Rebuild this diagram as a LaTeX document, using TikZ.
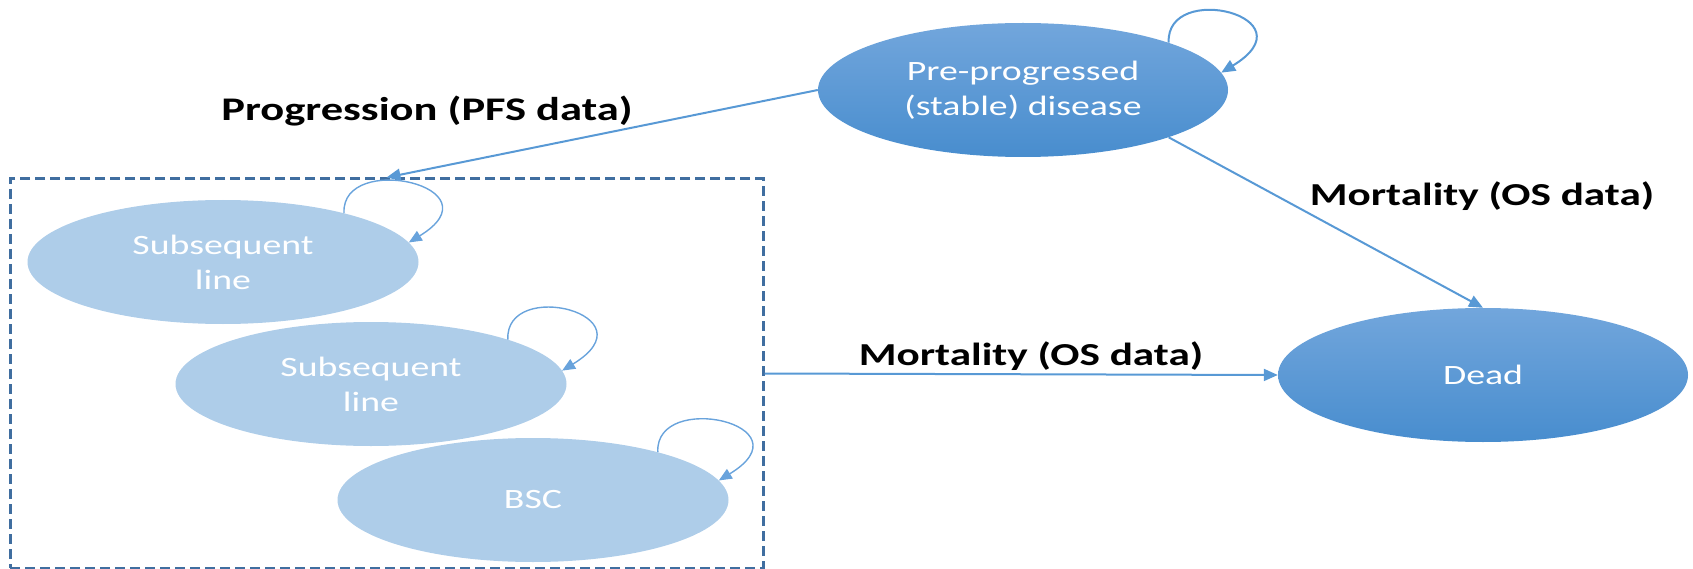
\documentclass[tikz,border=0pt]{standalone}
\usepackage{fontspec}
\setmainfont[FakeStretch=1.35]{Carlito}
\usetikzlibrary{shapes.geometric,arrows.meta,positioning}
\usepackage{xcolor}
\definecolor{stateTop}{RGB}{114,166,220}
\definecolor{stateBot}{RGB}{72,141,206}
\definecolor{subFill}{RGB}{174,205,233}
\definecolor{flowBlue}{RGB}{88,153,213}
\definecolor{loopBlue}{RGB}{105,163,220}
\definecolor{boxBlue}{RGB}{64,110,160}

\begin{document}
\begin{tikzpicture}[x=1pt,y=-1pt,
  state/.style={ellipse,inner sep=0pt,text=white,align=center,font=\fontsize{28}{35}\selectfont},
  mainstate/.style={state,top color=stateTop,bottom color=stateBot,minimum width=410pt,minimum height=134pt},
  substate/.style={state,fill=subFill,minimum width=391pt,minimum height=124pt},
  flow/.style={draw=flowBlue,line width=2pt,-{Triangle[length=14pt,width=12pt]}},
  selfloop/.style={draw=loopBlue,line width=1.4pt,-{Triangle[length=13pt,width=11pt]}},
  lbl/.style={font=\fontsize{32}{38}\selectfont\bfseries}]
\useasboundingbox (0,0) rectangle (1693,569);
\node[mainstate] (pre) at (1023,90) {Pre-progressed\\(stable) disease};
\node[mainstate] (dead) at (1483,375) {Dead};
\node[substate] (sub1) at (223,262) {Subsequent\\line};
\node[substate] (sub2) at (371,384) {Subsequent\\line};
\node[substate] (bsc) at (533,500) {BSC};
\node[draw=boxBlue,dash pattern=on 10pt off 5pt,line width=3pt,minimum width=753pt,minimum height=389pt,inner sep=0pt] (grp) at (386.5,373.5) {};
\node[lbl,font=\fontsize{33}{38}\selectfont\bfseries] (lprog) at (427,111) {Progression (PFS data)};
\node[lbl] (lmort) at (1482,196) {Mortality (OS data)};
\node[lbl] (lmortb) at (1031,356) {Mortality (OS data)};
\draw[flow] (pre.west) -- (grp.north);
\draw[flow] (pre.-18) -- (dead.north);
\draw[flow] (grp.east) -- (dead.west);
\draw[flow] (pre.18) .. controls +(-3,-62) and +(92,-56) .. (pre.5);
\draw[selfloop] (sub1.22) .. controls +(-3,-62) and +(92,-56) .. (sub1.6);
\draw[selfloop] (sub2.18) .. controls +(-3,-62) and +(92,-56) .. (sub2.4);
\draw[selfloop] (bsc.21) .. controls +(-3,-62) and +(92,-56) .. (bsc.6);
\end{tikzpicture}
\end{document}
